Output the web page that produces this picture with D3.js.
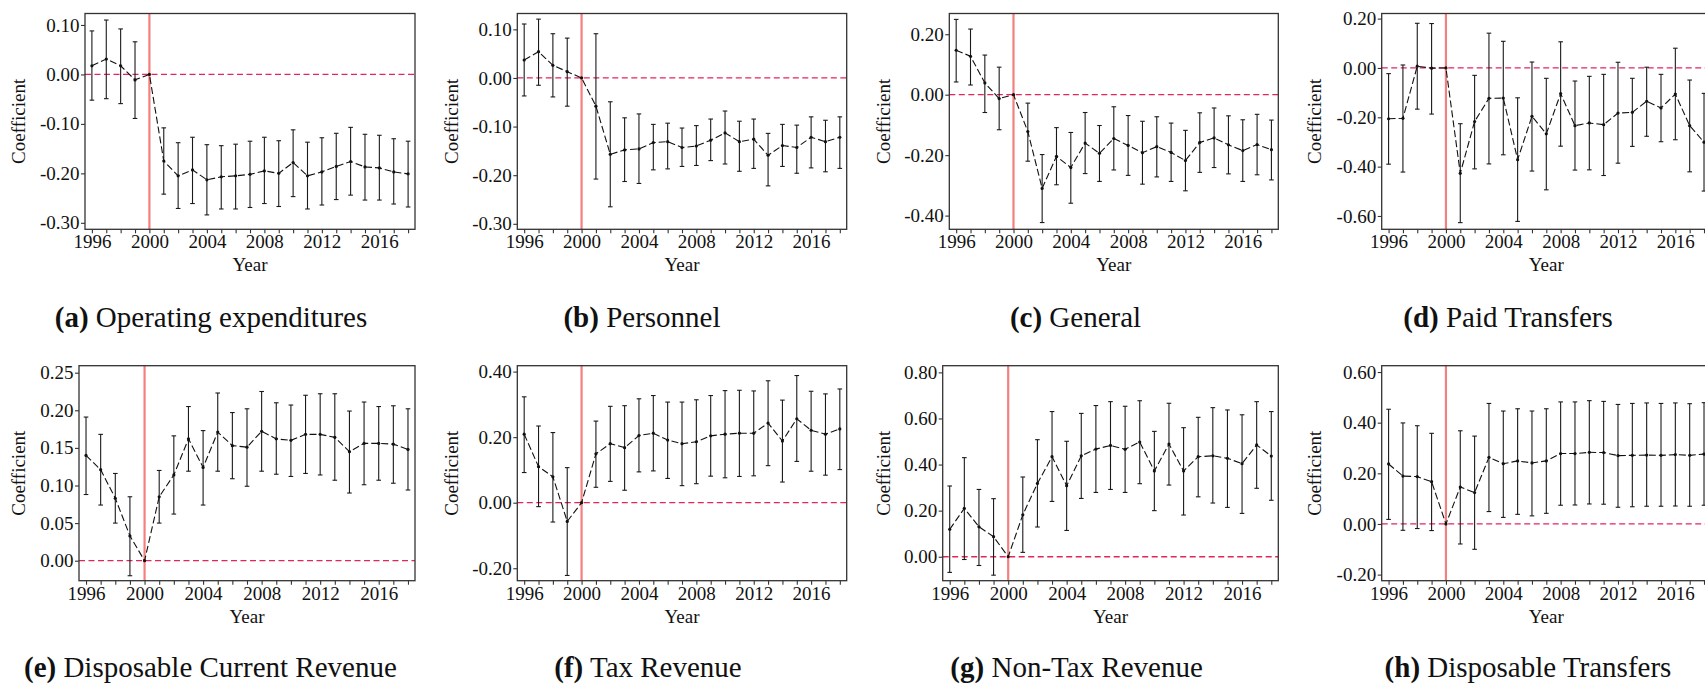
<!DOCTYPE html>
<html><head><meta charset="utf-8">
<script src="https://cdn.jsdelivr.net/npm/d3@7"></script>
<style>
body{margin:0;background:#fff}
svg{display:block}
</style>
</head><body><svg id="chart" width="1705" height="684"></svg>
<script>
// ---------- data ----------
const years = [1996,1997,1998,1999,2000,2001,2002,2003,2004,2005,2006,2007,2008,2009,2010,2011,2012,2013,2014,2015,2016,2017,2018];
const xTickLabels = [1996,2000,2004,2008,2012,2016];
const treatYear = 2000;

const coefA  = [0.0175,0.031,0.0175,-0.011,0,-0.175,-0.205,-0.193,-0.213,-0.207,-0.205,-0.202,-0.195,-0.200,-0.178,-0.205,-0.197,-0.186,-0.176,-0.187,-0.189,-0.197,-0.201];
const upperA = [0.088,0.110,0.092,0.066,null,-0.108,-0.138,-0.127,-0.142,-0.144,-0.141,-0.135,-0.127,-0.134,-0.112,-0.137,-0.128,-0.119,-0.107,-0.121,-0.123,-0.130,-0.135];
const lowerA = [-0.052,-0.049,-0.059,-0.089,null,-0.242,-0.271,-0.261,-0.284,-0.272,-0.272,-0.269,-0.261,-0.267,-0.247,-0.272,-0.264,-0.253,-0.244,-0.254,-0.254,-0.262,-0.268];
const yTicksA = [0.10,0.00,-0.10,-0.20,-0.30];

const coefB  = [0.037,0.054,0.026,0.013,0,-0.058,-0.157,-0.148,-0.146,-0.133,-0.131,-0.143,-0.140,-0.128,-0.113,-0.131,-0.126,-0.159,-0.139,-0.143,-0.122,-0.131,-0.122];
const upperB = [0.111,0.121,0.091,0.082,null,0.091,-0.049,-0.082,-0.074,-0.0955,-0.093,-0.103,-0.098,-0.0845,-0.068,-0.089,-0.0845,-0.114,-0.0955,-0.097,-0.080,-0.087,-0.080];
const lowerB = [-0.037,-0.015,-0.039,-0.058,null,-0.208,-0.265,-0.213,-0.217,-0.189,-0.187,-0.182,-0.180,-0.170,-0.177,-0.192,-0.186,-0.222,-0.182,-0.196,-0.185,-0.193,-0.186];
const yTicksB = [0.10,0.00,-0.10,-0.20,-0.30];

const coefC  = [0.147,0.127,0.039,-0.013,0,-0.122,-0.310,-0.204,-0.241,-0.160,-0.194,-0.145,-0.168,-0.192,-0.172,-0.191,-0.218,-0.158,-0.143,-0.166,-0.185,-0.165,-0.182];
const upperC = [0.249,0.217,0.131,0.091,null,-0.028,-0.198,-0.109,-0.125,-0.059,-0.102,-0.040,-0.069,-0.088,-0.073,-0.094,-0.118,-0.060,-0.044,-0.070,-0.083,-0.065,-0.084];
const lowerC = [0.042,0.032,-0.059,-0.116,null,-0.220,-0.423,-0.298,-0.359,-0.261,-0.287,-0.249,-0.267,-0.296,-0.272,-0.287,-0.318,-0.257,-0.241,-0.262,-0.287,-0.265,-0.282];
const yTicksC = [0.20,0.00,-0.20,-0.40];

const coefD  = [-0.206,-0.204,0.007,-0.001,0,-0.427,-0.217,-0.123,-0.122,-0.372,-0.196,-0.267,-0.104,-0.234,-0.223,-0.230,-0.183,-0.180,-0.135,-0.162,-0.106,-0.234,-0.301];
const upperD = [-0.023,0.012,0.181,0.180,null,-0.226,-0.030,0.141,0.108,-0.121,0.024,-0.042,0.106,-0.053,-0.034,-0.026,0.023,-0.042,0.003,-0.026,0.080,-0.049,-0.103];
const lowerD = [-0.390,-0.422,-0.167,-0.187,null,-0.627,-0.409,-0.389,-0.352,-0.622,-0.418,-0.494,-0.317,-0.414,-0.413,-0.436,-0.386,-0.318,-0.277,-0.299,-0.291,-0.421,-0.499];
const yTicksD = [0.20,0.00,-0.20,-0.40,-0.60];

const coefE  = [0.140,0.121,0.083,0.033,0,0.085,0.114,0.162,0.124,0.171,0.153,0.151,0.172,0.162,0.160,0.168,0.168,0.164,0.145,0.156,0.156,0.155,0.148];
const upperE = [0.191,0.168,0.116,0.085,null,0.120,0.166,0.205,0.173,0.223,0.197,0.202,0.225,0.210,0.207,0.220,0.222,0.222,0.199,0.211,0.205,0.206,0.202];
const lowerE = [0.088,0.074,0.050,-0.020,null,0.050,0.062,0.119,0.074,0.119,0.109,0.099,0.119,0.115,0.112,0.116,0.114,0.107,0.090,0.101,0.107,0.103,0.094];
const yTicksE = [0.25,0.20,0.15,0.10,0.05,0.00];

const coefF  = [0.209,0.110,0.079,-0.057,0,0.149,0.180,0.168,0.205,0.212,0.191,0.180,0.186,0.204,0.209,0.212,0.212,0.243,0.188,0.256,0.221,0.209,0.225];
const upperF = [0.323,0.234,0.214,0.107,null,0.249,0.294,0.296,0.317,0.327,0.307,0.307,0.314,0.327,0.342,0.343,0.341,0.372,0.313,0.388,0.340,0.332,0.347];
const lowerF = [0.092,-0.012,-0.059,-0.222,null,0.047,0.065,0.038,0.094,0.097,0.074,0.052,0.058,0.081,0.076,0.080,0.082,0.113,0.063,0.126,0.096,0.084,0.101];
const yTicksF = [0.40,0.20,0.00,-0.20];

const coefG  = [0.119,0.210,0.130,0.087,0,0.182,0.318,0.434,0.308,0.438,0.467,0.483,0.466,0.498,0.372,0.489,0.372,0.434,0.438,0.427,0.404,0.485,0.437];
const upperG = [0.307,0.430,0.292,0.252,null,0.346,0.508,0.630,0.501,0.622,0.656,0.673,0.653,0.677,0.544,0.666,0.560,0.605,0.647,0.637,0.616,0.673,0.630];
const lowerG = [-0.068,-0.012,-0.038,-0.080,null,0.019,0.129,0.240,0.114,0.253,0.279,0.292,0.279,0.317,0.200,0.311,0.181,0.260,0.233,0.214,0.188,0.297,0.245];
const yTicksG = [0.80,0.60,0.40,0.20,0.00];

const coefH  = [0.237,0.189,0.187,0.167,0,0.146,0.124,0.263,0.238,0.249,0.241,0.249,0.278,0.278,0.283,0.282,0.270,0.271,0.272,0.271,0.274,0.271,0.276];
const upperH = [0.453,0.399,0.388,0.358,null,0.368,0.347,0.476,0.446,0.455,0.446,0.455,0.482,0.482,0.487,0.484,0.472,0.476,0.478,0.476,0.478,0.475,0.479];
const lowerH = [0.018,-0.025,-0.018,-0.026,null,-0.079,-0.100,0.049,0.026,0.038,0.032,0.042,0.074,0.075,0.079,0.078,0.066,0.068,0.070,0.070,0.071,0.070,0.074];
const yTicksH = [0.60,0.40,0.20,0.00,-0.20];

const captionLetters = ["(a)","(b)","(c)","(d)","(e)","(f)","(g)","(h)"];
const captionTitles = ["Operating expenditures","Personnel","General","Paid Transfers",
  "Disposable Current Revenue","Tax Revenue","Non-Tax Revenue","Disposable Transfers"];
const xTitle = "Year";
const yTitle = "Coefficient";

const panels = [
  {coef:coefA, upper:upperA, lower:lowerA, yTicks:yTicksA},
  {coef:coefB, upper:upperB, lower:lowerB, yTicks:yTicksB},
  {coef:coefC, upper:upperC, lower:lowerC, yTicks:yTicksC},
  {coef:coefD, upper:upperD, lower:lowerD, yTicks:yTicksD},
  {coef:coefE, upper:upperE, lower:lowerE, yTicks:yTicksE},
  {coef:coefF, upper:upperF, lower:lowerF, yTicks:yTicksF},
  {coef:coefG, upper:upperG, lower:lowerG, yTicks:yTicksG},
  {coef:coefH, upper:upperH, lower:lowerH, yTicks:yTicksH}
];

// ---------- layout (positions only) ----------
const FONT = '"Liberation Serif", Tinos, "Times New Roman", serif';
const xDomain = [1995.52, 2018.48];
const rows = [
  {top:13.5, bottom:229.3, yearY:270.5, capY:326.8},
  {top:365.7, bottom:580.7, yearY:622.5, capY:677}
];
const layout = [
  {row:0, left:85,    right:415,    yDom:[-0.3131,0.1232], labelX:25,    capX:211},
  {row:0, left:517.3, right:846.7,  yDom:[-0.3113,0.1326], labelX:458.3, capX:642},
  {row:0, left:949.3, right:1278.3, yDom:[-0.4453,0.2685], labelX:890,   capX:1075.5},
  {row:0, left:1381.7,right:1710.9, yDom:[-0.654,0.2207],  labelX:1321,  capX:1508},
  {row:1, left:79,    right:415,    yDom:[-0.0266,0.2593], labelX:25,    capX:210.4},
  {row:1, left:517.3, right:846.7,  yDom:[-0.238,0.418],   labelX:457.7, capX:648},
  {row:1, left:942.7, right:1278.3, yDom:[-0.104,0.829],   labelX:890,   capX:1076.6},
  {row:1, left:1381.7,right:1710.9, yDom:[-0.224,0.625],   labelX:1321,  capX:1528}
];

const fmt = v => { const s = Math.abs(v).toFixed(2); return (v < -1e-9 ? "-" : "") + s; };

const svg = d3.select("#chart");

panels.forEach((p, i) => {
  const L = layout[i], R = rows[L.row];
  const x = d3.scaleLinear().domain(xDomain).range([L.left, L.right]);
  const y = d3.scaleLinear().domain(L.yDom).range([R.bottom, R.top]);
  const g = svg.append("g");

  // zero reference line
  g.append("line")
    .attr("x1", L.left).attr("x2", L.right)
    .attr("y1", y(0)).attr("y2", y(0))
    .attr("stroke", "#e2265c").attr("stroke-width", 1.3)
    .attr("stroke-dasharray", "6,3.5");

  // treatment year line
  g.append("line")
    .attr("x1", x(treatYear)).attr("x2", x(treatYear))
    .attr("y1", R.top).attr("y2", R.bottom)
    .attr("stroke", "#f47f7f").attr("stroke-width", 2.2);

  const rowsData = years.map((yr, k) => ({yr, c:p.coef[k], u:p.upper[k], l:p.lower[k]}));

  // error bars
  const eb = g.append("g").attr("stroke", "#1a1a1a").attr("stroke-width", 1.1);
  rowsData.filter(d => d.u !== null).forEach(d => {
    const cx = x(d.yr);
    eb.append("line").attr("x1", cx).attr("x2", cx).attr("y1", y(d.l)).attr("y2", y(d.u));
    eb.append("line").attr("x1", cx-2.3).attr("x2", cx+2.3).attr("y1", y(d.l)).attr("y2", y(d.l));
    eb.append("line").attr("x1", cx-2.3).attr("x2", cx+2.3).attr("y1", y(d.u)).attr("y2", y(d.u));
  });

  // coefficient line
  g.append("path")
    .datum(rowsData)
    .attr("d", d3.line().x(d => x(d.yr)).y(d => y(d.c)))
    .attr("fill", "none").attr("stroke", "#111").attr("stroke-width", 1.1)
    .attr("stroke-dasharray", "7,3");

  g.selectAll("circle.pt").data(rowsData).join("circle")
    .attr("cx", d => x(d.yr)).attr("cy", d => y(d.c)).attr("r", 1.6).attr("fill", "#111");

  // frame
  g.append("rect")
    .attr("x", L.left).attr("y", R.top)
    .attr("width", L.right - L.left).attr("height", R.bottom - R.top)
    .attr("fill", "none").attr("stroke", "#333").attr("stroke-width", 1.3);

  // x axis
  const xa = g.append("g").attr("transform", `translate(0,${R.bottom})`)
    .call(d3.axisBottom(x).tickValues(years)
      .tickFormat(d => xTickLabels.includes(d) ? String(d) : "")
      .tickSize(4).tickSizeOuter(0).tickPadding(1.5));
  xa.select(".domain").remove();
  xa.selectAll("line").attr("stroke", "#333").attr("stroke-width", 1.1);
  xa.selectAll("text").style("font-family", FONT).style("font-size", "19px").style("fill", "#111");

  // y axis
  const ya = g.append("g").attr("transform", `translate(${L.left},0)`)
    .call(d3.axisLeft(y).tickValues(p.yTicks).tickFormat(fmt)
      .tickSize(4).tickSizeOuter(0).tickPadding(1.5));
  ya.select(".domain").remove();
  ya.selectAll("line").attr("stroke", "#333").attr("stroke-width", 1.1);
  ya.selectAll("text").style("font-family", FONT).style("font-size", "19px").style("fill", "#111");

  // axis titles
  g.append("text").attr("x", (L.left + L.right) / 2).attr("y", R.yearY)
    .attr("text-anchor", "middle")
    .style("font-family", FONT).style("font-size", "19px").style("fill", "#111")
    .text(xTitle);
  g.append("text")
    .attr("transform", `translate(${L.labelX},${(R.top + R.bottom) / 2}) rotate(-90)`)
    .attr("text-anchor", "middle")
    .style("font-family", FONT).style("font-size", "19px").style("fill", "#111")
    .text(yTitle);

  // caption
  const cap = g.append("text").attr("x", L.capX).attr("y", R.capY)
    .attr("text-anchor", "middle")
    .style("font-family", FONT).style("font-size", "29px").style("fill", "#111");
  cap.append("tspan").style("font-weight", "bold").text(captionLetters[i]);
  cap.append("tspan").text(" " + captionTitles[i]);
});
</script>
</body></html>
